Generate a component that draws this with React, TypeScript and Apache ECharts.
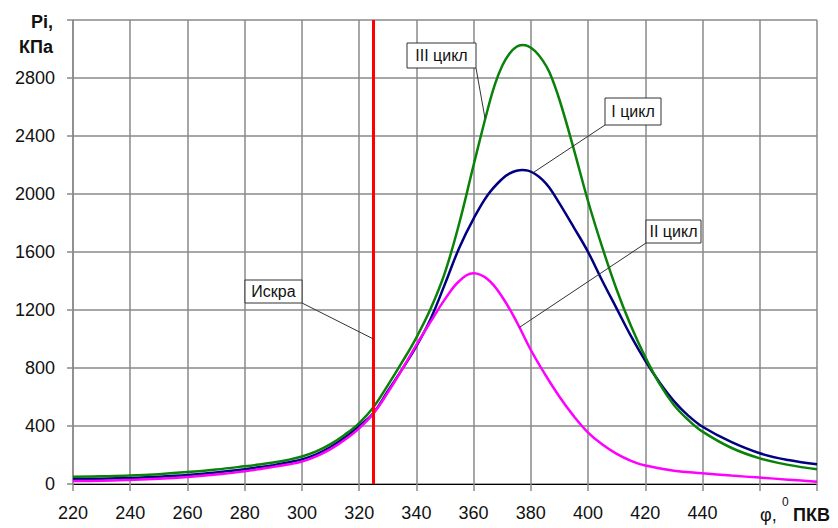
import React, { useEffect, useRef } from "react";
import * as echarts from "echarts";

const xTicks = [220, 240, 260, 280, 300, 320, 340, 360, 380, 400, 420, 440, 460, 480];
const yTicks = [0, 400, 800, 1200, 1600, 2000, 2400, 2800, 3200];

const angleIII = [220, 230, 240, 250, 260, 270, 280, 285, 290, 295, 300, 305, 310, 315, 320, 325, 330, 335, 340, 345, 350, 355, 360, 365, 367.5, 370, 372.5, 375, 377, 379, 381.5, 384, 386.5, 390, 395, 400, 405, 410, 415, 420, 425, 430, 435, 440, 450, 460, 470, 480];
const cycleIII = [50, 53, 58, 68, 82, 100, 122, 134, 148, 166, 190, 225, 275, 340, 420, 530, 680, 840, 1010, 1210, 1460, 1800, 2200, 2590, 2760, 2885, 2968, 3015, 3028, 3020, 2986, 2925, 2840, 2650, 2310, 1950, 1630, 1340, 1090, 875, 690, 545, 442, 361, 250, 177, 132, 101];

const angleI = [220, 230, 240, 250, 260, 270, 280, 285, 290, 295, 300, 305, 310, 315, 320, 325, 330, 335, 340, 345, 350, 355, 360, 365, 370, 372.5, 375, 377, 379, 381.5, 384, 386.5, 390, 395, 400, 405, 410, 415, 420, 425, 430, 435, 440, 450, 460, 470, 480];
const cycleI = [35, 37, 42, 50, 62, 80, 102, 115, 130, 148, 170, 205, 255, 320, 400, 490, 640, 790, 950, 1140, 1380, 1630, 1830, 1995, 2105, 2140, 2160, 2166, 2161, 2138, 2099, 2043, 1935, 1770, 1600, 1400, 1210, 1020, 850, 700, 572, 472, 395, 290, 212, 165, 136];

const angleII = [220, 230, 240, 250, 260, 270, 280, 285, 290, 295, 300, 305, 310, 315, 320, 325, 330, 335, 340, 345, 350, 355, 360, 365, 370, 375, 380, 385, 390, 395, 400, 405, 410, 415, 420, 430, 440, 450, 460, 470, 480];
const cycleII = [20, 22, 28, 36, 48, 65, 88, 102, 118, 134, 154, 190, 240, 305, 384, 487, 630, 790, 960, 1120, 1275, 1400, 1453, 1410, 1290, 1120, 924, 755, 602, 468, 355, 272, 208, 160, 127, 92, 74, 58, 44, 30, 15];

const sparkAngle = 325;

const labels = ["III цикл", "I цикл", "II цикл", "Искра"];
const labelTargets: [number, number][] = [
  [364, 2520],
  [381, 2150],
  [376, 1080],
  [325, 1000],
];

// layout of annotation boxes (pixels): x, y, w, h, and the corner the leader starts from
const boxLayout = [
  { x: 407, y: 43, w: 69, h: 25, cx: 476, cy: 68 },
  { x: 605, y: 98, w: 56, h: 27, cx: 605, cy: 125 },
  { x: 646, y: 220, w: 55, h: 23, cx: 646, cy: 243 },
  { x: 245, y: 280, w: 57, h: 23, cx: 302, cy: 303 },
];

const FONT = "'Liberation Sans', Arial, sans-serif";

function pairs(xs: number[], ys: number[]) {
  return xs.map((x, i) => [x, ys[i]]);
}

export default function App() {
  const ref = useRef<HTMLDivElement>(null);
  useEffect(() => {
    if (!ref.current) return;
    const chart = echarts.init(ref.current, undefined, { renderer: "svg" });
    const lineSeries = (name: string, data: number[][], color: string, extra: any = {}) => ({
      name,
      type: "line",
      data,
      smooth: 0.4,
      showSymbol: false,
      symbol: "none",
      lineStyle: { color, width: 2.5 },
      itemStyle: { color },
      z: 3,
      ...extra,
    });
    chart.setOption({
      animation: false,
      backgroundColor: "#ffffff",
      grid: { left: 73, right: 21, top: 20, bottom: 44, containLabel: false },
      xAxis: {
        type: "value",
        min: xTicks[0],
        max: xTicks[xTicks.length - 1],
        interval: 20,
        axisLine: { show: true, onZero: false, lineStyle: { color: "#000", width: 1 } },
        axisTick: { show: true, length: 7, lineStyle: { color: "#8a8a8a", width: 1.5 } },
        splitLine: { show: true, lineStyle: { color: "#8a8a8a", width: 1.5 } },
        axisLabel: {
          margin: 20,
          fontSize: 18,
          fontFamily: FONT,
          color: "#111",
          formatter: (v: number) => (v >= 460 ? "" : String(v)),
        },
      },
      yAxis: {
        type: "value",
        min: yTicks[0],
        max: yTicks[yTicks.length - 1],
        interval: 400,
        axisLine: { show: true, lineStyle: { color: "#8a8a8a", width: 1.5 } },
        axisTick: { show: true, length: 6, lineStyle: { color: "#8a8a8a", width: 1.5 } },
        splitLine: { show: true, lineStyle: { color: "#8a8a8a", width: 1.5 } },
        axisLabel: {
          margin: 18,
          fontSize: 18,
          fontFamily: FONT,
          color: "#111",
          formatter: (v: number) => (v >= 3200 ? "" : String(v)),
        },
      },
      series: [
        lineSeries("I цикл", pairs(angleI, cycleI), "#000080"),
        lineSeries("II цикл", pairs(angleII, cycleII), "#ff00ff"),
        lineSeries("III цикл", pairs(angleIII, cycleIII), "#0a820a", {
          markLine: {
            silent: true,
            symbol: ["none", "none"],
            label: { show: false },
            lineStyle: { color: "#ff0000", width: 3, type: "solid" },
            data: [{ xAxis: sparkAngle }],
          },
        }),
      ],
    });

    const graphics: any[] = [];
    labels.forEach((t, i) => {
      const b = boxLayout[i];
      const p = chart.convertToPixel({ gridIndex: 0 }, labelTargets[i]) as number[];
      graphics.push({
        type: "line",
        shape: { x1: b.cx, y1: b.cy, x2: p[0], y2: p[1] },
        style: { stroke: "#333", lineWidth: 1 },
        z: 10,
      });
      graphics.push({
        type: "rect",
        shape: { x: b.x, y: b.y, width: b.w, height: b.h },
        style: { fill: "#fff", stroke: "#333", lineWidth: 1 },
        z: 11,
      });
      graphics.push({
        type: "text",
        x: b.x + b.w / 2,
        y: b.y + b.h / 2,
        style: {
          text: t,
          font: `16px ${FONT}`,
          fill: "#111",
          align: "center",
          verticalAlign: "middle",
        },
        z: 12,
      });
    });
    graphics.push(
      { type: "text", x: 53, y: 22, style: { text: "Pi,", font: `bold 18px ${FONT}`, fill: "#111", align: "right", verticalAlign: "middle" } },
      { type: "text", x: 53, y: 47, style: { text: "КПа", font: `bold 18px ${FONT}`, fill: "#111", align: "right", verticalAlign: "middle" } },
      { type: "text", x: 760, y: 515, style: { text: "φ,", font: `18px ${FONT}`, fill: "#111", align: "left", verticalAlign: "middle" } },
      { type: "text", x: 782, y: 502, style: { text: "0", font: `12px ${FONT}`, fill: "#111", align: "left", verticalAlign: "middle" } },
      { type: "text", x: 793, y: 515, style: { text: "ПКВ", font: `bold 18px ${FONT}`, fill: "#111", align: "left", verticalAlign: "middle" } }
    );
    chart.setOption({ graphic: graphics });

    return () => chart.dispose();
  }, []);
  return (
    <div
      ref={ref}
      style={{ position: "fixed", left: 0, top: 0, width: 838, height: 528, background: "#fff" }}
    />
  );
}
